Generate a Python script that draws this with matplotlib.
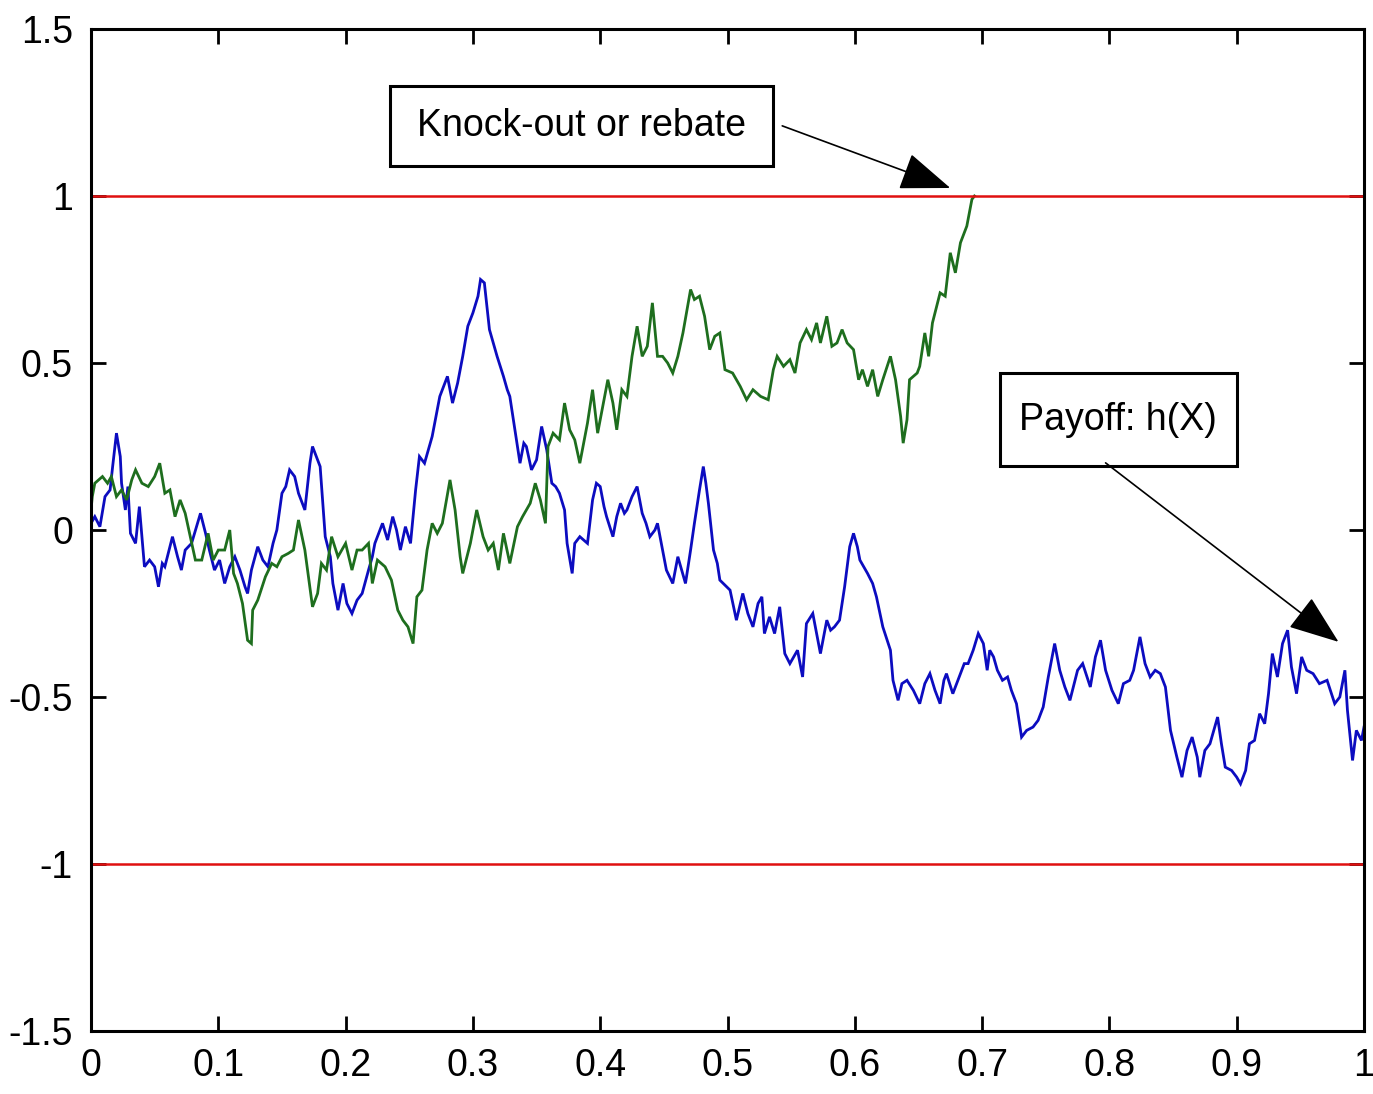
import matplotlib
matplotlib.use("Agg")
import matplotlib.pyplot as plt
from matplotlib.patches import Rectangle, FancyArrowPatch

# ---- data ----
blue_x = [0.000, 0.003, 0.007, 0.011, 0.015, 0.017, 0.020, 0.023, 0.024, 0.027, 0.029, 0.031,
          0.035, 0.038, 0.042, 0.046, 0.050, 0.053, 0.056, 0.058, 0.064, 0.068, 0.071, 0.074,
          0.079, 0.086, 0.090, 0.093, 0.097, 0.101, 0.105, 0.109, 0.113, 0.117, 0.121, 0.123,
          0.126, 0.131, 0.135, 0.139, 0.143, 0.146, 0.150, 0.153, 0.156, 0.160, 0.163, 0.166,
          0.168, 0.172, 0.174, 0.177, 0.180, 0.184, 0.188, 0.190, 0.194, 0.198, 0.201, 0.205,
          0.209, 0.213, 0.218, 0.221, 0.223, 0.229, 0.233, 0.237, 0.240, 0.243, 0.247, 0.251,
          0.255, 0.258, 0.262, 0.268, 0.274, 0.280, 0.284, 0.288, 0.292, 0.296, 0.300, 0.304,
          0.306, 0.309, 0.313, 0.319, 0.324, 0.327, 0.329, 0.333, 0.337, 0.340, 0.342, 0.346,
          0.350, 0.354, 0.358, 0.362, 0.365, 0.368, 0.372, 0.374, 0.378, 0.380, 0.384, 0.390,
          0.394, 0.397, 0.400, 0.403, 0.405, 0.410, 0.413, 0.416, 0.419, 0.421, 0.425, 0.429,
          0.433, 0.436, 0.439, 0.443, 0.445, 0.449, 0.452, 0.457, 0.461, 0.464, 0.467, 0.471,
          0.474, 0.478, 0.481, 0.483, 0.485, 0.489, 0.492, 0.494, 0.502, 0.507, 0.512, 0.516,
          0.520, 0.524, 0.527, 0.529, 0.533, 0.537, 0.541, 0.545, 0.549, 0.555, 0.559, 0.562,
          0.567, 0.573, 0.578, 0.581, 0.584, 0.588, 0.592, 0.596, 0.599, 0.602, 0.604, 0.610,
          0.614, 0.617, 0.622, 0.628, 0.630, 0.634, 0.637, 0.641, 0.646, 0.651, 0.655, 0.659,
          0.663, 0.667, 0.670, 0.672, 0.677, 0.683, 0.686, 0.689, 0.693, 0.697, 0.701, 0.704,
          0.706, 0.709, 0.712, 0.716, 0.720, 0.723, 0.727, 0.731, 0.735, 0.740, 0.744, 0.748,
          0.752, 0.757, 0.761, 0.765, 0.769, 0.775, 0.779, 0.785, 0.789, 0.793, 0.797, 0.802,
          0.807, 0.811, 0.816, 0.819, 0.822, 0.824, 0.828, 0.832, 0.836, 0.840, 0.844, 0.848,
          0.853, 0.857, 0.861, 0.865, 0.869, 0.871, 0.875, 0.879, 0.885, 0.888, 0.891, 0.896,
          0.900, 0.903, 0.907, 0.910, 0.914, 0.918, 0.922, 0.925, 0.928, 0.932, 0.936, 0.940,
          0.943, 0.947, 0.951, 0.955, 0.960, 0.965, 0.971, 0.977, 0.981, 0.985, 0.987, 0.991,
          0.994, 0.998, 1.000]
blue_y = [0.02, 0.04, 0.01, 0.10, 0.12, 0.19, 0.29, 0.22, 0.14, 0.06, 0.13, -0.01,
          -0.04, 0.07, -0.11, -0.09, -0.11, -0.17, -0.10, -0.11, -0.02, -0.08, -0.12, -0.06,
          -0.04, 0.05, -0.01, -0.06, -0.12, -0.09, -0.16, -0.11, -0.08, -0.12, -0.17, -0.19,
          -0.12, -0.05, -0.09, -0.11, -0.04, 0.00, 0.11, 0.13, 0.18, 0.16, 0.11, 0.08,
          0.06, 0.20, 0.25, 0.22, 0.19, -0.02, -0.08, -0.16, -0.24, -0.16, -0.22, -0.25,
          -0.21, -0.19, -0.12, -0.08, -0.04, 0.02, -0.03, 0.04, 0.00, -0.06, 0.01, -0.04,
          0.12, 0.22, 0.20, 0.28, 0.40, 0.46, 0.38, 0.44, 0.52, 0.61, 0.65, 0.70,
          0.75, 0.74, 0.60, 0.52, 0.46, 0.42, 0.40, 0.30, 0.20, 0.26, 0.25, 0.18,
          0.21, 0.31, 0.24, 0.14, 0.13, 0.11, 0.06, -0.04, -0.13, -0.04, -0.02, -0.04,
          0.09, 0.14, 0.13, 0.07, 0.04, -0.02, 0.04, 0.08, 0.05, 0.06, 0.10, 0.13,
          0.05, 0.02, -0.02, 0.00, 0.02, -0.06, -0.12, -0.16, -0.08, -0.12, -0.16, -0.06,
          0.02, 0.12, 0.19, 0.14, 0.08, -0.06, -0.10, -0.15, -0.18, -0.27, -0.19, -0.25,
          -0.29, -0.22, -0.20, -0.31, -0.26, -0.31, -0.23, -0.37, -0.40, -0.36, -0.44, -0.28,
          -0.25, -0.37, -0.27, -0.30, -0.29, -0.27, -0.17, -0.05, -0.01, -0.05, -0.09, -0.13,
          -0.16, -0.20, -0.29, -0.36, -0.45, -0.51, -0.46, -0.45, -0.48, -0.52, -0.46, -0.43,
          -0.48, -0.52, -0.45, -0.43, -0.49, -0.43, -0.40, -0.40, -0.36, -0.31, -0.34, -0.42,
          -0.36, -0.38, -0.42, -0.45, -0.44, -0.48, -0.52, -0.62, -0.60, -0.59, -0.57, -0.53,
          -0.44, -0.34, -0.42, -0.47, -0.51, -0.42, -0.40, -0.47, -0.38, -0.33, -0.42, -0.48,
          -0.52, -0.46, -0.45, -0.42, -0.36, -0.32, -0.40, -0.44, -0.42, -0.43, -0.47, -0.60,
          -0.68, -0.74, -0.66, -0.62, -0.68, -0.74, -0.66, -0.64, -0.56, -0.64, -0.71, -0.72,
          -0.74, -0.76, -0.72, -0.64, -0.63, -0.55, -0.58, -0.49, -0.37, -0.44, -0.34, -0.30,
          -0.41, -0.49, -0.38, -0.42, -0.43, -0.46, -0.45, -0.52, -0.50, -0.42, -0.54, -0.69,
          -0.60, -0.63, -0.59]

green_x = [0.000, 0.001, 0.003, 0.009, 0.013, 0.016, 0.020, 0.024, 0.028, 0.032, 0.035, 0.040,
           0.045, 0.050, 0.054, 0.058, 0.062, 0.066, 0.070, 0.074, 0.078, 0.082, 0.087, 0.092,
           0.096, 0.100, 0.105, 0.109, 0.112, 0.115, 0.119, 0.123, 0.126, 0.127, 0.131, 0.137,
           0.142, 0.146, 0.150, 0.155, 0.159, 0.163, 0.168, 0.174, 0.178, 0.181, 0.185, 0.189,
           0.194, 0.200, 0.205, 0.209, 0.213, 0.218, 0.221, 0.225, 0.231, 0.236, 0.241, 0.245,
           0.249, 0.253, 0.256, 0.260, 0.264, 0.268, 0.272, 0.276, 0.282, 0.286, 0.290, 0.292,
           0.298, 0.303, 0.308, 0.312, 0.316, 0.320, 0.324, 0.329, 0.335, 0.339, 0.345, 0.349,
           0.353, 0.357, 0.359, 0.363, 0.368, 0.372, 0.376, 0.380, 0.384, 0.390, 0.394, 0.398,
           0.402, 0.406, 0.410, 0.413, 0.417, 0.421, 0.425, 0.429, 0.433, 0.437, 0.441, 0.445,
           0.449, 0.453, 0.457, 0.461, 0.465, 0.471, 0.474, 0.478, 0.482, 0.486, 0.490, 0.494,
           0.498, 0.504, 0.510, 0.515, 0.520, 0.526, 0.532, 0.536, 0.539, 0.544, 0.549, 0.553,
           0.557, 0.562, 0.566, 0.570, 0.573, 0.578, 0.582, 0.586, 0.590, 0.594, 0.599, 0.603,
           0.606, 0.610, 0.614, 0.618, 0.622, 0.628, 0.632, 0.636, 0.638, 0.641, 0.643, 0.649,
           0.651, 0.655, 0.658, 0.661, 0.667, 0.671, 0.675, 0.679, 0.683, 0.688, 0.692, 0.694]
green_y = [0.06, 0.10, 0.14, 0.16, 0.14, 0.16, 0.10, 0.12, 0.09, 0.15, 0.18, 0.14,
           0.13, 0.16, 0.20, 0.11, 0.12, 0.04, 0.09, 0.05, -0.02, -0.09, -0.09, -0.01,
           -0.09, -0.06, -0.06, 0.00, -0.13, -0.16, -0.22, -0.33, -0.34, -0.24, -0.21, -0.14,
           -0.10, -0.11, -0.08, -0.07, -0.06, 0.03, -0.06, -0.23, -0.19, -0.10, -0.12, -0.02,
           -0.08, -0.04, -0.12, -0.06, -0.06, -0.04, -0.16, -0.09, -0.11, -0.15, -0.24, -0.27,
           -0.29, -0.34, -0.20, -0.18, -0.06, 0.02, -0.01, 0.02, 0.15, 0.06, -0.08, -0.13,
           -0.04, 0.06, -0.02, -0.06, -0.04, -0.12, -0.01, -0.10, 0.01, 0.04, 0.08, 0.14,
           0.09, 0.02, 0.25, 0.29, 0.27, 0.38, 0.30, 0.27, 0.20, 0.32, 0.42, 0.29,
           0.37, 0.45, 0.38, 0.30, 0.42, 0.40, 0.52, 0.61, 0.52, 0.55, 0.68, 0.52,
           0.52, 0.50, 0.47, 0.52, 0.59, 0.72, 0.69, 0.70, 0.64, 0.54, 0.58, 0.59,
           0.48, 0.47, 0.43, 0.39, 0.42, 0.40, 0.39, 0.48, 0.52, 0.49, 0.51, 0.47,
           0.56, 0.60, 0.57, 0.62, 0.56, 0.64, 0.55, 0.56, 0.60, 0.56, 0.54, 0.45,
           0.48, 0.43, 0.48, 0.40, 0.45, 0.52, 0.45, 0.34, 0.26, 0.33, 0.45, 0.47,
           0.49, 0.59, 0.52, 0.62, 0.71, 0.70, 0.83, 0.77, 0.86, 0.91, 0.99, 1.00]

barriers = [1.0, -1.0]
x_ticks = [0, 0.1, 0.2, 0.3, 0.4, 0.5, 0.6, 0.7, 0.8, 0.9, 1]
x_ticklabels = ["0", "0.1", "0.2", "0.3", "0.4", "0.5", "0.6", "0.7", "0.8", "0.9", "1"]
y_ticks = [-1.5, -1, -0.5, 0, 0.5, 1, 1.5]
y_ticklabels = ["-1.5", "-1", "-0.5", "0", "0.5", "1", "1.5"]
label_knock = "Knock-out or rebate"
label_payoff = "Payoff: h(X)"

# ---- figure ----
plt.rcParams['font.family'] = ['Liberation Sans', 'DejaVu Sans']
fig = plt.figure(figsize=(13.73, 10.94), dpi=100)
ax = fig.add_axes([91/1373, 63/1094, 1273/1373, 1002/1094])

ax.plot(blue_x, blue_y, color='#0c0cc0', lw=2.0, solid_joinstyle='miter')
ax.plot(green_x, green_y, color='#1e6e1e', lw=2.0, solid_joinstyle='miter')
for b in barriers:
    ax.axhline(b, color='#e01010', lw=1.8)

ax.set_xlim(0, 1)
ax.set_ylim(-1.5, 1.5)
ax.set_xticks(x_ticks)
ax.set_xticklabels(x_ticklabels)
ax.set_yticks(y_ticks)
ax.set_yticklabels(y_ticklabels)
ax.tick_params(direction='in', length=11, width=2, labelsize=27, top=True, right=True,
               colors='black')
ax.tick_params(axis='x', pad=12)
ax.tick_params(axis='y', pad=13)
for s in ax.spines.values():
    s.set_linewidth(2.2)

# annotation boxes
ax.add_patch(Rectangle((0.235, 1.090), 0.301, 0.239, fill=False, lw=2.2, ec='black'))
ax.text(0.385, 1.21, label_knock, ha='center', va='center', fontsize=27)
ax.add_patch(Rectangle((0.714, 0.192), 0.186, 0.278, fill=False, lw=2.2, ec='black'))
ax.text(0.807, 0.33, label_payoff, ha='center', va='center', fontsize=27)

for (x0, y0), (x1, y1) in [((0.543, 1.210), (0.675, 1.024)), ((0.797, 0.201), (0.980, -0.335))]:
    ax.add_patch(FancyArrowPatch((x0, y0), (x1, y1), arrowstyle='-|>,head_length=1.6,head_width=0.6',
                                 mutation_scale=20, lw=1.2, color='black', shrinkA=0, shrinkB=0))

fig.savefig('out.png', dpi=100)
